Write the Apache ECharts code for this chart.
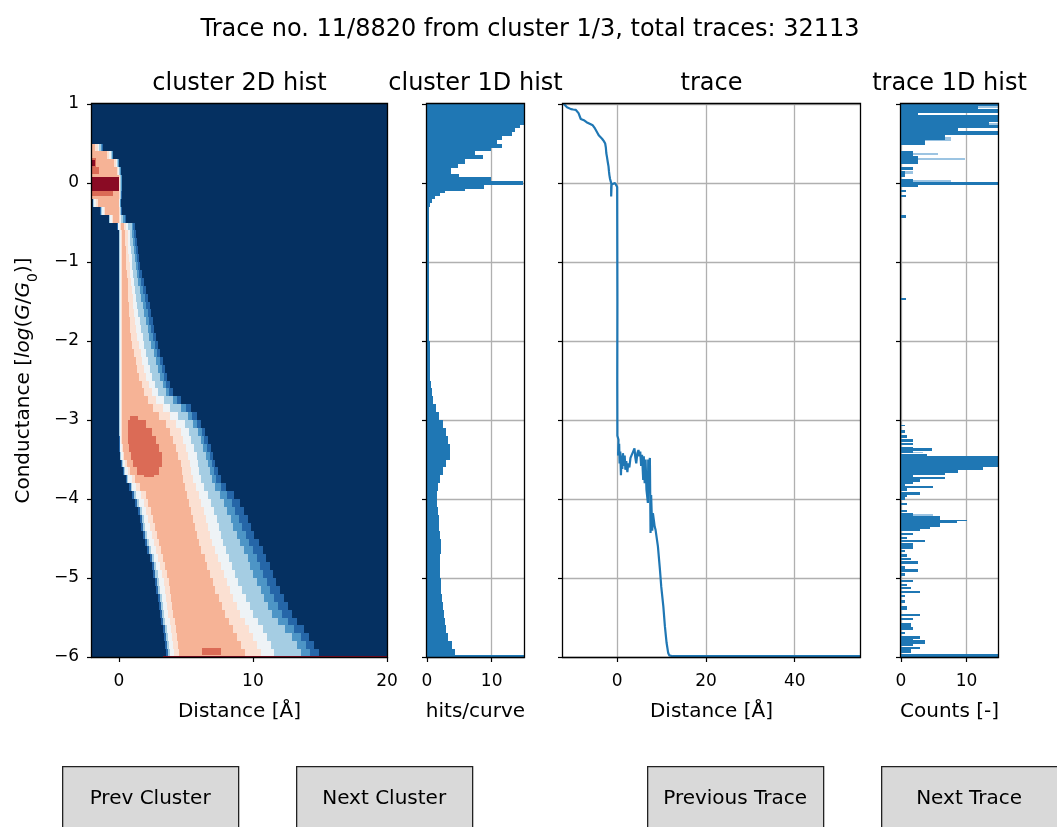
<!DOCTYPE html>
<html><head><meta charset="utf-8">
<script src="https://cdn.jsdelivr.net/npm/echarts@6.0.0/dist/echarts.min.js"></script>
<style>html,body{margin:0;padding:0;background:#fff}#c{width:1057px;height:827px}</style>
</head><body><div id="c"></div><script>
// ---------- texts ----------
const mainTitle = 'Trace no. 11/8820 from cluster 1/3, total traces: 32113';
const panelTitles = ['cluster 2D hist', 'cluster 1D hist', 'trace', 'trace 1D hist'];
const xAxisNames = ['Distance [Å]', 'hits/curve', 'Distance [Å]', 'Counts [-]'];
const buttonLabels = ['Prev Cluster', 'Next Cluster', 'Previous Trace', 'Next Trace'];
// ---------- ticks ----------
const xTicks2d = [0, 10, 20];
const xTicksC1d = [0, 10];
const xTicksTrace = [0, 20, 40];
const xTicksT1d = [0, 10];

// ---------- cluster 2D histogram (per row band edges) ----------
const rowEdges = [-6.0,-5.9,-5.8,-5.7,-5.6,-5.5,-5.4,-5.3,-5.2,-5.1,-5.0,-4.9,-4.8,-4.7,-4.6,-4.5,-4.4,-4.3,-4.2,-4.1,-4.0,-3.9,-3.8,-3.7,-3.6,-3.5,-3.4,-3.3,-3.2,-3.1,-3.0,-2.9,-2.8,-2.7,-2.6,-2.5,-2.4,-2.3,-2.2,-2.1,-2.0,-1.9,-1.8,-1.7,-1.6,-1.5,-1.4,-1.3,-1.2,-1.1,-1.0,-0.9,-0.8,-0.7,-0.6,-0.5,-0.4,-0.3,-0.2,-0.1,0.0,0.1,0.2,0.3,0.4,0.5];
const outerL  = [3.5,3.42,3.35,3.27,3.18,3.06,2.98,2.9,2.8,2.7,2.58,2.45,2.3,2.13,1.98,1.82,1.68,1.55,1.4,1.2,1.0,0.75,0.5,0.3,0.15,0.07,0.03,0.02,0.02,0.02,0.02,0.02,0.02,0.02,0.02,0.02,0.02,0.02,0.02,0.02,0.02,0.02,0.02,0.02,0.02,0.02,0.02,0.02,0.02,0.02,0.02,0.02,0.02,0.02,-0.1,-0.75,-1.4,-1.95,-2.5,-2.5,-2.5,-2.5,-2.5,-2.5,-2.5];
const salmonL = [4.5,4.42,4.35,4.27,4.18,4.05,3.98,3.9,3.82,3.72,3.6,3.45,3.3,3.13,2.98,2.82,2.68,2.55,2.4,2.2,2.0,1.6,1.2,0.85,0.6,0.4,0.3,0.25,0.22,0.2,0.2,0.2,0.2,0.2,0.2,0.2,0.2,0.2,0.2,0.2,0.2,0.2,0.2,0.2,0.2,0.2,0.2,0.2,0.2,0.2,0.2,0.2,0.2,0.2,0.15,-0.4,-1.0,-1.55,-2.2,-2.2,-2.2,-2.2,-2.2,-2.2,-2.2];
const salmonR = [9.4,9.1,8.8,8.5,8.2,7.91,7.7,7.45,7.2,7.0,6.8,6.6,6.4,6.15,5.95,5.8,5.65,5.5,5.38,5.25,5.1,4.95,4.8,4.7,4.6,4.43,4.25,4.05,3.85,3.5,3.0,2.55,2.15,1.9,1.7,1.5,1.38,1.25,1.15,1.02,0.93,0.87,0.82,0.79,0.75,0.72,0.7,0.66,0.6,0.56,0.53,0.5,0.48,0.46,0.4,0.05,0.03,0.0,0.02,0.05,0.05,-0.1,-0.35,-0.9,-1.75];
const paleR   = [11.6,11.35,11.05,10.75,10.4,10.02,9.75,9.45,9.2,8.9,8.65,8.45,8.25,8.0,7.8,7.6,7.45,7.3,7.1,6.9,6.65,6.35,6.15,6.0,5.9,5.8,5.62,5.42,5.25,4.95,4.45,3.85,3.35,2.9,2.7,2.5,2.35,2.15,2.0,1.88,1.77,1.66,1.55,1.45,1.35,1.27,1.19,1.12,1.05,1.0,0.95,0.9,0.85,0.82,0.7,0.15,0.1,0.08,0.08,0.1,0.1,0.02,-0.15,-0.6,-1.45];
const lightR  = [13.6,13.3,12.9,12.4,11.9,11.4,11.1,10.85,10.6,10.3,10.0,9.8,9.6,9.3,9.0,8.8,8.55,8.35,8.1,7.85,7.55,7.2,6.95,6.8,6.65,6.5,6.3,6.1,5.9,5.55,5.15,4.65,4.05,3.5,3.3,3.1,2.95,2.8,2.6,2.42,2.28,2.15,2.03,1.9,1.8,1.67,1.55,1.45,1.35,1.28,1.22,1.15,1.08,1.02,0.95,0.3,0.15,0.12,0.13,0.17,0.17,0.1,-0.05,-0.5,-1.3];
const outerR  = [14.9,14.55,14.2,13.8,13.3,12.89,12.6,12.3,12.0,11.75,11.5,11.25,11.0,10.75,10.45,10.1,9.85,9.6,9.3,9.0,8.6,8.0,7.6,7.4,7.2,7.04,6.85,6.67,6.45,6.1,5.8,5.35,4.6,4.05,3.8,3.6,3.45,3.3,3.1,2.92,2.78,2.65,2.53,2.42,2.3,2.18,2.05,1.9,1.7,1.58,1.48,1.4,1.32,1.25,1.2,0.55,0.22,0.18,0.2,0.25,0.25,0.18,0.05,-0.4,-1.15];
// high-count cores: [yLow, yHigh, xLow, xHigh, level] (level 6 = red, 7 = dark red)
const hist2dCores = [
  [-3.0,-2.95,0.8,1.4,6],[-3.1,-3.0,0.7,2.0,6],[-3.2,-3.1,0.7,2.45,6],[-3.3,-3.2,0.72,2.8,6],
  [-3.4,-3.3,0.78,3.0,6],[-3.5,-3.4,0.88,3.2,6],[-3.6,-3.5,1.05,3.2,6],[-3.7,-3.6,1.35,3.0,6],[-3.72,-3.7,1.9,2.6,6],
  [-5.98,-5.88,6.2,7.6,6],[-6.0,-5.985,3.3,20,7],
  [0.12,0.2,-2.5,-1.5,6],[0.2,0.32,-2.5,-1.7,6],[0.22,0.29,-2.5,-1.8,7],
  [-0.17,-0.1,-2.5,-0.4,6],[-0.1,0.08,-2.5,0.05,7]
];

// ---------- cluster 1D histogram ----------
const clusterHistEdges = [-6.0,-5.97,-5.9,-5.8,-5.7,-5.6,-5.5,-5.4,-5.3,-5.2,-5.1,-5.0,-4.9,-4.8,-4.7,-4.6,-4.5,-4.4,-4.3,-4.2,-4.1,-4.0,-3.9,-3.8,-3.7,-3.6,-3.5,-3.4,-3.3,-3.2,-3.1,-3.0,-2.9,-2.8,-2.7,-2.6,-2.5,-2.4,-2.2,-2.0,-1.8,-1.6,-1.4,-1.2,-1.0,-0.8,-0.6,-0.4,-0.3,-0.25,-0.2,-0.16,-0.13,-0.1,-0.07,-0.03,0.03,0.07,0.11,0.19,0.24,0.30,0.35,0.40,0.44,0.49,0.54,0.59,0.65,0.70,0.73,1.0];
const clusterHistVals = [15.5,4.3,3.8,3.3,3.0,2.8,2.6,2.4,2.3,2.2,2.1,2.0,2.0,2.0,2.1,2.1,2.0,1.9,1.8,1.7,1.6,1.6,1.7,2.0,2.5,3.0,3.6,3.6,3.3,2.9,2.4,1.9,1.4,1.0,0.8,0.6,0.5,0.45,0.4,0.35,0.3,0.3,0.25,0.25,0.25,0.25,0.3,0.35,0.5,0.7,1.2,2.0,2.8,5.8,8.8,14.8,9.9,5.0,3.7,4.8,5.8,8.6,7.4,9.9,11.6,10.8,11.6,13.1,13.6,14.4,16];

// ---------- trace ----------
const traceX = [-12.2,-11.8,-11.3,-10.9,-10.4,-9.9,-9.3,-9.0,-8.7,-8.4,-8.2,-7.9,-7.5,-7.1,-6.9,-6.6,-6.2,-5.9,-5.5,-5.2,-5.0,-4.7,-4.4,-4.1,-3.8,-3.4,-3.0,-2.7,-2.55,-2.45,-2.3,-2.1,-1.95,-1.85,-1.75,-1.6,-1.45,-1.3,-1.35,-1.35,-1.25,-0.9,-0.5,-0.2,0.0,0.05,0.02,0.05,0.3,0.2,0.45,0.55,0.7,0.85,1.0,1.15,1.3,1.5,1.7,1.85,2.05,2.3,2.5,2.75,3.0,3.3,3.6,3.9,4.1,4.3,4.55,4.8,5.0,5.2,5.4,5.6,5.87,6.0,6.2,6.4,6.6,6.92,7.0,7.2,7.37,7.52,7.65,7.9,8.05,8.27,8.45,8.65,9.18,9.63,9.93,10.4,10.75,11.13,11.5,11.73,12.5,30,54.7];
const traceY = [1.01,0.99,0.96,0.94,0.935,0.93,0.925,0.92,0.885,0.86,0.81,0.80,0.795,0.79,0.77,0.765,0.75,0.74,0.73,0.72,0.69,0.67,0.63,0.60,0.58,0.56,0.53,0.50,0.45,0.38,0.33,0.26,0.21,0.15,0.10,0.05,0.02,-0.01,-0.06,-0.17,-0.02,-0.01,0.0,-0.02,-0.05,-1.5,-2.5,-3.2,-3.25,-3.45,-3.3,-3.55,-3.4,-3.7,-3.45,-3.62,-3.42,-3.58,-3.45,-3.63,-3.52,-3.66,-3.55,-3.6,-3.48,-3.5,-3.4,-3.36,-3.48,-3.55,-3.42,-3.38,-3.46,-3.4,-3.58,-3.44,-3.76,-3.46,-3.8,-3.5,-3.88,-4.05,-3.5,-3.55,-3.48,-4.43,-3.95,-4.4,-4.18,-4.27,-4.35,-4.39,-4.6,-4.89,-5.11,-5.36,-5.61,-5.82,-5.95,-5.98,-5.99,-5.99,-5.99];

// ---------- trace 1D histogram: [yLow, yHigh, count] ----------
const traceHistBins = [
  [0.97,1.0,15.5],[0.94,0.97,11.8],[0.88,0.94,15.5],[0.857,0.88,2.6],[0.814,0.857,15.5],[0.772,0.814,15.5],
  [0.738,0.772,13.5],[0.696,0.738,15.5],[0.662,0.696,8.7],[0.61,0.662,15.5],[0.55,0.61,6.7],[0.485,0.55,3.7],
  [0.367,0.40,1.8],[0.338,0.367,1.8],[0.295,0.338,2.6],[0.24,0.295,2.6],[0.165,0.198,1.8],[0.114,0.148,0.6],
  [0.072,0.114,0.6],[0.013,0.055,1.8],[-0.03,0.008,15.5],[-0.055,-0.03,2.6],[-0.118,-0.084,0.7],[-0.18,-0.148,0.7],
  [-0.44,-0.41,0.7],[-1.48,-1.456,0.7],
  [-3.08,-3.06,0.6],[-3.17,-3.13,0.6],[-3.23,-3.19,0.86],[-3.28,-3.245,1.9],[-3.32,-3.29,1.9],[-3.36,-3.34,1.9],
  [-3.39,-3.36,4.7],[-3.42,-3.39,1.9],[-3.455,-3.43,3.9],[-3.6,-3.455,15.5],[-3.63,-3.6,12.5],[-3.667,-3.63,8.7],
  [-3.70,-3.667,6.7],[-3.72,-3.70,1.9],[-3.75,-3.72,6.7],[-3.78,-3.75,2.9],[-3.81,-3.78,1.9],[-3.83,-3.81,0.6],
  [-3.86,-3.83,4.9],[-3.895,-3.865,0.86],[-3.95,-3.91,2.9],[-3.98,-3.95,0.86],[-4.01,-3.98,0.6],[-4.075,-4.05,0.86],
  [-4.16,-4.14,0.86],[-4.22,-4.18,1.9],[-4.26,-4.22,5.9],[-4.28,-4.26,10],[-4.31,-4.28,8.5],[-4.35,-4.31,5.9],
  [-4.38,-4.35,4.4],[-4.41,-4.38,2.9],[-4.46,-4.43,1.9],[-4.51,-4.48,0.86],[-4.54,-4.52,3.7],[-4.59,-4.56,1.9],
  [-4.63,-4.60,1.9],[-4.67,-4.65,0.6],[-4.73,-4.69,0.86],[-4.77,-4.75,1.6],[-4.82,-4.79,2.6],[-4.88,-4.85,0.6],
  [-4.92,-4.89,2.6],[-4.98,-4.94,0.6],[-5.05,-5.02,1.9],[-5.10,-5.07,0.86],[-5.14,-5.11,1.6],[-5.19,-5.16,2.9],
  [-5.24,-5.22,0.6],[-5.32,-5.28,0.6],[-5.41,-5.36,0.86],[-5.48,-5.45,2.9],[-5.53,-5.50,1.9],[-5.62,-5.57,1.6],
  [-5.66,-5.62,1.9],[-5.71,-5.68,0.6],[-5.77,-5.74,2.9],[-5.79,-5.77,1.9],[-5.83,-5.79,3.7],[-5.86,-5.83,1.9],
  [-5.90,-5.87,2.9],[-5.95,-5.90,1.6],[-6.0,-5.96,15.5]
];
const traceHistLight = [
  [0.95,0.97,15.5],[0.865,0.88,2.6],[0.74,0.76,15.5],[0.53,0.58,7.7],[0.36,0.38,5.7],[0.285,0.315,9.7],
  [0.12,0.148,1.8],[0.013,0.04,7.7],[-3.42,-3.40,3.4],[-3.48,-3.465,15.5],[-4.22,-4.19,4.9]
];

// ---------- colours ----------
const colors = ['#2566a8','#4d95c6','#a5cde3','#eef3f6','#fbe0d2','#f6b396','#db6b56','#8a0b24','#1f77b4','#9cc4e2'];
const FONT = 'DejaVu Sans';

// ---------- layout ----------
const grids = [
  {left: 92, top: 104, width: 295, height: 553},
  {left: 427, top: 104, width: 97, height: 553},
  {left: 563, top: 104, width: 297, height: 553},
  {left: 901, top: 104, width: 97, height: 553}
];
const xRanges = [[-2, 20], [0, 15], [-12.2, 54.7], [0, 14.8]];
const xTickSets = [xTicks2d, xTicksC1d, xTicksTrace, xTicksT1d];
const xIntervals = [10, 10, 20, 10];

// ---------- build items ----------
const histSegs = [];
for (let i = 0; i < rowEdges.length - 1; i++) {
  const y0 = rowEdges[i], y1 = rowEdges[i + 1];
  const a = outerL[i], b = salmonL[i], c = salmonR[i], d = paleR[i], f = lightR[i], e = outerR[i];
  const w = b - a;
  const cuts = [a, a + 0.15 * w, a + 0.3 * w, a + 0.65 * w, b, c, c + 0.55 * (d - c), d, f, f + 0.5 * (e - f), e];
  const cols = [0, 2, 3, 4, 5, 4, 3, 2, 1, 0];
  for (let k = 0; k < cols.length; k++) histSegs.push([cuts[k], cuts[k + 1], y0, y1, cols[k]]);
}
hist2dCores.forEach(c => histSegs.push([c[2], c[3], c[0], c[1], c[4]]));

const clusterItems = clusterHistVals.map((v, i) => [0, v, clusterHistEdges[i], clusterHistEdges[i + 1], 8]);
const traceHistItems = traceHistLight.map(b => [0, b[2], b[0], b[1], 9])
  .concat(traceHistBins.map(b => [0, b[2], b[0], b[1], 8]));
const traceData = traceX.map((x, i) => [x, traceY[i]]);

function renderRect(params, api) {
  const p0 = api.coord([api.value(0), api.value(3)]);
  const p1 = api.coord([api.value(1), api.value(2)]);
  const cs = params.coordSys;
  const L = Math.round(Math.max(p0[0], cs.x)), R = Math.round(Math.min(p1[0], cs.x + cs.width));
  const T = Math.round(Math.max(p0[1], cs.y)), B = Math.round(Math.min(p1[1], cs.y + cs.height));
  if (R <= L || B <= T) return null;
  return {type: 'rect', shape: {x: L, y: T, width: R - L, height: B - T}, style: {fill: colors[api.value(4)]}, silent: true};
}

const minus = v => String(v).replace('-', '\u2212');

const xAxes = grids.map((g, i) => ({
  type: 'value', gridIndex: i, min: xRanges[i][0], max: xRanges[i][1], interval: xIntervals[i],
  axisLine: {show: false, onZero: false},
  axisTick: {show: true, length: 5, customValues: xTickSets[i], lineStyle: {color: '#000', width: 1.2}},
  axisLabel: {customValues: xTickSets[i], fontSize: 17, color: '#000', margin: 16, fontFamily: FONT, formatter: minus},
  splitLine: {show: i > 0, lineStyle: {color: '#b0b0b0', width: 1.3}},
  name: xAxisNames[i], nameLocation: 'middle', nameGap: 45,
  nameTextStyle: {fontSize: 20, color: '#000', fontFamily: FONT}
}));
const yAxes = grids.map((g, i) => ({
  type: 'value', gridIndex: i, min: -6, max: 1, interval: 1,
  axisLine: {show: false, onZero: false},
  axisTick: {show: true, length: 5, lineStyle: {color: '#000', width: 1.2}},
  axisLabel: {show: i === 0, fontSize: 17, color: '#000', margin: 13, fontFamily: FONT, formatter: minus},
  splitLine: {show: i > 0, lineStyle: {color: '#b0b0b0', width: 1.3}},
  name: i === 0 ? 'Conductance [{it|log}({it|G}/{it|G}{sub|0})]' : '',
  nameLocation: 'middle', nameRotate: 90, nameGap: 58,
  nameTextStyle: {fontSize: 20, color: '#000', fontFamily: FONT,
    rich: {it: {fontSize: 20, fontStyle: 'italic', fontFamily: FONT, color: '#000'},
           sub: {fontSize: 14, fontFamily: FONT, color: '#000', verticalAlign: 'bottom', padding: [0, 0, -6, 0]}}}
}));

const titles = [{text: mainTitle, left: 530, top: 18, textAlign: 'center', padding: 0,
  textStyle: {fontSize: 24, fontWeight: 'normal', color: '#000', fontFamily: FONT}}]
  .concat(panelTitles.map((t, i) => ({text: t, left: grids[i].left + grids[i].width / 2, top: 72,
    textAlign: 'center', padding: 0, textStyle: {fontSize: 24, fontWeight: 'normal', color: '#000', fontFamily: FONT}})));

const frames = grids.map(g => ({type: 'rect', z: 100, silent: true,
  shape: {x: g.left - 0.5, y: g.top - 0.5, width: g.width + 1, height: g.height + 1},
  style: {fill: 'none', stroke: '#000', lineWidth: 1.3}}));
const buttonX = [62, 296, 647, 881];
const buttons = buttonLabels.map((t, i) => ({type: 'group', left: buttonX[i], top: 766, silent: true, children: [
  {type: 'rect', shape: {x: 0.5, y: 0.5, width: 176, height: 70}, style: {fill: '#d9d9d9', stroke: '#222', lineWidth: 1.3}},
  {type: 'text', x: 88, y: 33, style: {text: t, fontSize: 20, fontFamily: FONT, fill: '#000', align: 'center', verticalAlign: 'middle'}}
]}));

const chart = echarts.init(document.getElementById('c'), null, {renderer: 'canvas'});
chart.setOption({
  animation: false,
  backgroundColor: '#fff',
  textStyle: {fontFamily: FONT},
  title: titles,
  grid: grids.map((g, i) => Object.assign({}, g, {containLabel: false, show: i === 0, backgroundColor: '#053061', borderWidth: 0})),
  xAxis: xAxes,
  yAxis: yAxes,
  graphic: frames.concat(buttons),
  series: [
    {type: 'custom', xAxisIndex: 0, yAxisIndex: 0, renderItem: renderRect, data: histSegs, silent: true},
    {type: 'custom', xAxisIndex: 1, yAxisIndex: 1, renderItem: renderRect, data: clusterItems, silent: true},
    {type: 'line', xAxisIndex: 2, yAxisIndex: 2, data: traceData, showSymbol: false, symbol: 'none',
      lineStyle: {color: '#1f77b4', width: 2.2}, silent: true, clip: true},
    {type: 'custom', xAxisIndex: 3, yAxisIndex: 3, renderItem: renderRect, data: traceHistItems, silent: true}
  ]
});
</script></body></html>
